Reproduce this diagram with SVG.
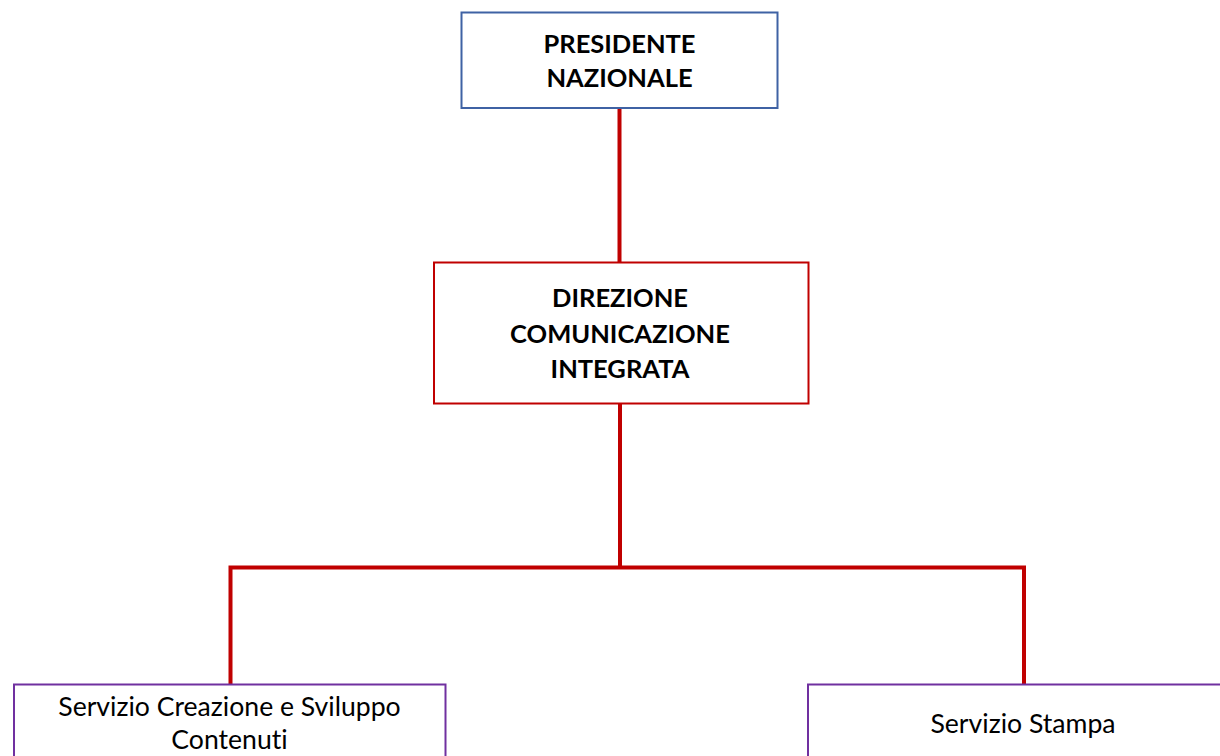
<svg xmlns="http://www.w3.org/2000/svg" width="1220" height="756" viewBox="0 0 1220 756">
<style>
.box{fill:#fff;stroke-width:2}
.blue{stroke:#3F62A4}
.red{stroke:#C00000}
.purple{stroke:#7030A0}
.conn{fill:none;stroke:#C00000;stroke-width:4}
text{font-variant-ligatures:none;font-feature-settings:"liga" 0,"dlig" 0}
.b{font-family:Lato,"Liberation Sans",sans-serif;font-weight:bold;font-size:25.5px;fill:#000;text-anchor:middle}
.r{font-family:Lato,"Liberation Sans",sans-serif;font-size:26.6px;fill:#000;text-anchor:middle}
</style>
<rect width="1220" height="756" fill="#fff"/>
<g id="connectors">
<line class="conn" x1="619.5" y1="108" x2="619.5" y2="262"/>
<line class="conn" x1="620" y1="403" x2="620" y2="567"/>
<polyline class="conn" points="230.5,684 230.5,567.5 1024,567.5 1024,684"/>
</g>
<g id="presidente">
<rect class="box blue" x="461.5" y="12.5" width="316" height="95.5"/>
<text class="b" x="619.5" y="53">PRESIDENTE</text>
<text class="b" x="619.5" y="87">NAZIONALE</text>
</g>
<g id="direzione">
<rect class="box red" x="434" y="262.5" width="374.5" height="141"/>
<text class="b" x="620" y="307">DIREZIONE</text>
<text class="b" x="620" y="343">COMUNICAZIONE</text>
<text class="b" x="620" y="378">INTEGRATA</text>
</g>
<g id="creazione">
<rect class="box purple" x="14" y="684.5" width="431.5" height="80"/>
<text class="r" x="229.5" y="716">Servizio Creazione e Sviluppo</text>
<text class="r" x="229.5" y="749">Contenuti</text>
</g>
<g id="stampa">
<rect class="box purple" x="808" y="684.5" width="420" height="80"/>
<text class="r" x="1023" y="732.5">Servizio Stampa</text>
</g>
</svg>
